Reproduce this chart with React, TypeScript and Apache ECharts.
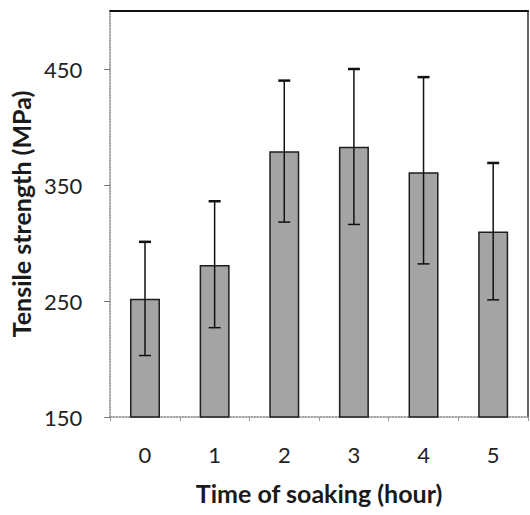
import React, { useEffect, useRef } from "react";
import * as echarts from "echarts";

const categories = ["0", "1", "2", "3", "4", "5"];
const strength = [252, 281, 379, 383, 361, 310];
const errLow = [203, 227, 318, 316, 282, 251];
const errHigh = [301, 336, 440, 450, 443, 369];
const yTickValues = [150, 250, 350, 450];

export default function App() {
  const ref = useRef<HTMLDivElement>(null);
  useEffect(() => {
    if (!ref.current) return;
    const chart = echarts.init(ref.current, undefined, { renderer: "svg" });
    const font = "Lato, 'Open Sans', sans-serif";
    const errData = categories.map((_, i) => [i, errLow[i], errHigh[i]]);
    chart.setOption({
      animation: false,
      backgroundColor: "#ffffff",
      grid: { left: 110, right: 2, top: 11, bottom: 98, containLabel: false },
      xAxis: [
        {
          type: "category",
          data: categories,
          name: "Time of soaking (hour)",
          nameLocation: "middle",
          nameGap: 63,
          nameTextStyle: { fontFamily: font, fontSize: 25, fontWeight: "bold", color: "#1a1a1a" },
          axisLine: { show: true, lineStyle: { color: "#888", type: "dotted", width: 1.5 } },
          axisTick: { show: true, inside: false, length: 4, lineStyle: { color: "#999" } },
          axisLabel: { margin: 26, fontFamily: font, fontSize: 22, color: "#222" },
        },
        {
          type: "category",
          data: categories,
          position: "top",
          axisLine: { show: true, lineStyle: { color: "#111", width: 2 } },
          axisTick: { show: false },
          axisLabel: { show: false },
        },
      ],
      yAxis: [
        {
          type: "value",
          min: 150,
          max: 500,
          name: "Tensile strength (MPa)",
          nameLocation: "middle",
          nameGap: 74,
          nameTextStyle: { fontFamily: font, fontSize: 25, fontWeight: "bold", color: "#1a1a1a" },
          axisLine: { show: true, lineStyle: { color: "#888", type: "dotted", width: 1.5 } },
          axisTick: { show: true, length: 6, customValues: yTickValues, lineStyle: { color: "#777" } },
          axisLabel: { margin: 28, fontFamily: font, fontSize: 22, color: "#222", customValues: yTickValues },
          splitLine: { show: false },
        },
        {
          type: "value",
          min: 150,
          max: 500,
          position: "right",
          axisLine: { show: true, lineStyle: { color: "#333", width: 1.5 } },
          axisTick: { show: false },
          axisLabel: { show: false },
          splitLine: { show: false },
        },
      ],
      series: [
        {
          type: "bar",
          data: strength,
          barWidth: 30,
          itemStyle: { color: "#a4a4a4", borderColor: "#1e1e1e", borderWidth: 1.5 },
          z: 2,
        },
        {
          type: "custom",
          data: errData,
          z: 3,
          renderItem: (params: any, api: any) => {
            const x = api.value(0);
            const lo = api.coord([x, api.value(1)]);
            const hi = api.coord([x, api.value(2)]);
            const half = 6;
            const style = { stroke: "#111", lineWidth: 1.5 };
            return {
              type: "group",
              children: [
                { type: "line", shape: { x1: lo[0], y1: lo[1], x2: hi[0], y2: hi[1] }, style },
                { type: "line", shape: { x1: lo[0] - half, y1: lo[1], x2: lo[0] + half, y2: lo[1] }, style },
                { type: "line", shape: { x1: hi[0] - half, y1: hi[1], x2: hi[0] + half, y2: hi[1] }, style: { stroke: "#111", lineWidth: 2.5 } },
              ],
            };
          },
        },
      ],
    });
    return () => chart.dispose();
  }, []);
  return <div ref={ref} style={{ width: 530, height: 515, position: "absolute", left: 0, top: 0 }} />;
}
